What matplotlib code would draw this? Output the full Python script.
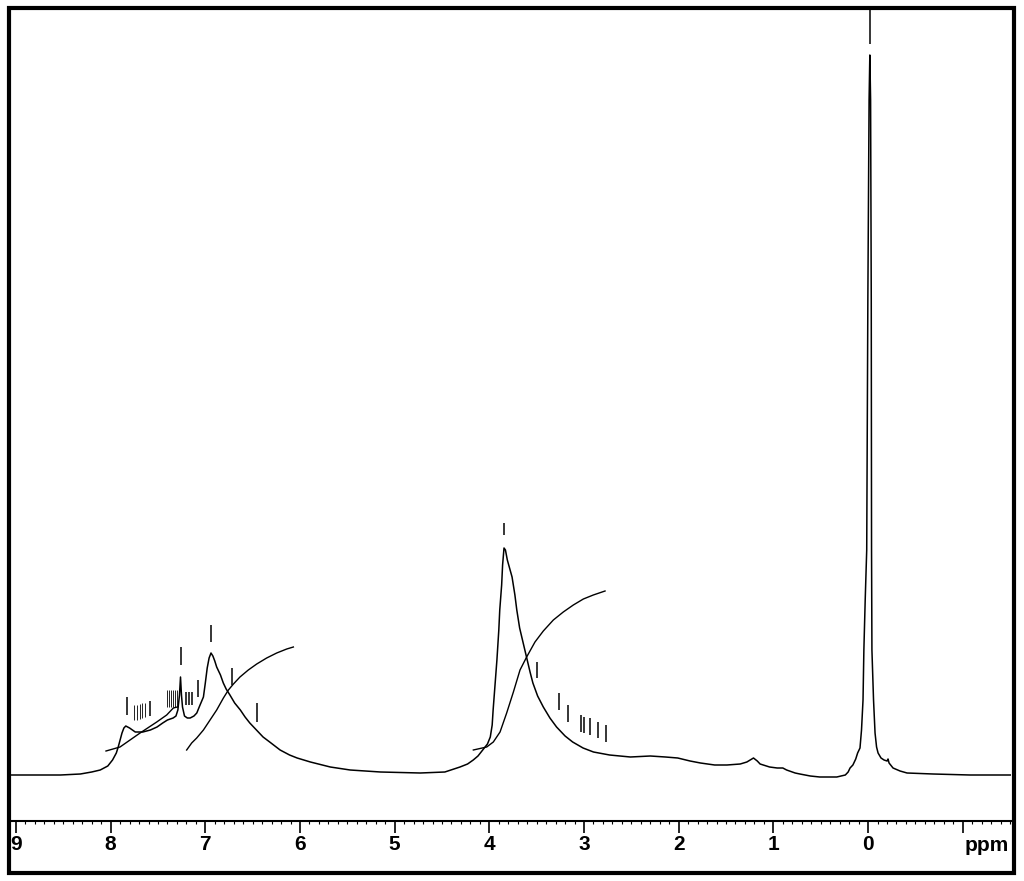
import matplotlib
matplotlib.use("Agg")
import matplotlib.pyplot as plt
from matplotlib.patches import Rectangle
from matplotlib.ticker import MultipleLocator, FixedLocator

# 1H NMR spectrum (ppm, intensity a.u.)
spectrum_pts = [
    (9.06, 0), (8.53, 0), (8.32, 1), (8.20, 3), (8.11, 5), (8.03, 9), (7.98, 15),
    (7.94, 22), (7.92, 28), (7.90, 35), (7.88, 42), (7.86, 47), (7.84, 49),
    (7.82, 48), (7.80, 47), (7.74, 43), (7.66, 43), (7.58, 45), (7.51, 48),
    (7.45, 52), (7.40, 55), (7.34, 57), (7.31, 59), (7.29, 65), (7.273, 80),
    (7.262, 98), (7.252, 80), (7.241, 68), (7.22, 59), (7.19, 57), (7.16, 57),
    (7.12, 59), (7.09, 62), (7.06, 69), (7.02, 78), (7.00, 92), (6.98, 107),
    (6.96, 117), (6.94, 122), (6.92, 119), (6.90, 114), (6.88, 108), (6.84, 100),
    (6.81, 92), (6.78, 86), (6.74, 80), (6.69, 72), (6.63, 65), (6.58, 58),
    (6.53, 52), (6.46, 45), (6.39, 38), (6.32, 33), (6.21, 25), (6.11, 20),
    (6.03, 17), (5.89, 13), (5.68, 8), (5.47, 5), (5.15, 3), (4.73, 2), (4.47, 3),
    (4.31, 8), (4.23, 11), (4.17, 15), (4.12, 19), (4.07, 25), (4.02, 31),
    (3.99, 38), (3.97, 50), (3.96, 65), (3.94, 90), (3.92, 115), (3.90, 145),
    (3.89, 165), (3.87, 190), (3.86, 210), (3.845, 227), (3.83, 225), (3.81, 215),
    (3.78, 205), (3.76, 198), (3.73, 180), (3.71, 165), (3.68, 147), (3.65, 135),
    (3.62, 123), (3.60, 115), (3.57, 103), (3.54, 92), (3.49, 79), (3.43, 68),
    (3.36, 57), (3.29, 48), (3.20, 39), (3.12, 33), (3.01, 27), (2.90, 23),
    (2.73, 20), (2.51, 18), (2.30, 19), (2.14, 18), (2.01, 17), (1.88, 14),
    (1.77, 12), (1.62, 10), (1.49, 10), (1.35, 11), (1.28, 13), (1.21, 17),
    (1.17, 14), (1.14, 11), (1.04, 8), (0.96, 7), (0.90, 7), (0.86, 5), (0.77, 2),
    (0.72, 1), (0.61, -1), (0.51, -2), (0.33, -2), (0.24, 0), (0.21, 3), (0.19, 7),
    (0.16, 10), (0.13, 16), (0.11, 22), (0.085, 27), (0.069, 45), (0.053, 75),
    (0.044, 125), (0.030, 175), (0.014, 225), (0.002, 475), (-0.011, 675),
    (-0.019, 720), (-0.027, 675), (-0.034, 475), (-0.037, 225), (-0.041, 125),
    (-0.058, 75), (-0.074, 42), (-0.090, 28), (-0.106, 22), (-0.137, 17),
    (-0.169, 15), (-0.201, 14), (-0.211, 16), (-0.222, 12), (-0.264, 7),
    (-0.338, 4), (-0.412, 2), (-0.687, 1), (-1.077, 0), (-1.51, 0),
]

# integral curves
integral_1 = [(8.049, 24), (7.901, 28), (7.795, 35), (7.689, 42), (7.513, 53),
              (7.408, 60), (7.338, 67), (7.296, 68)]
integral_2 = [(7.197, 25), (7.144, 32), (7.091, 37), (7.020, 45), (6.950, 55),
              (6.880, 65), (6.809, 77), (6.756, 85), (6.703, 91), (6.634, 98),
              (6.546, 105), (6.457, 111), (6.352, 117), (6.246, 122), (6.140, 126),
              (6.070, 128)]
integral_3 = [(4.169, 25), (4.028, 28), (3.958, 33), (3.887, 43), (3.817, 62),
              (3.746, 83), (3.676, 105), (3.606, 118), (3.518, 133), (3.430, 144),
              (3.324, 155), (3.219, 163), (3.113, 170), (3.007, 176), (2.902, 180),
              (2.778, 184)]

# peak picking marks: position, bottom, top
pick_ppm = [7.830, 7.750, 7.722, 7.693, 7.666, 7.637, 7.584,
            7.408, 7.387, 7.366, 7.344, 7.323, 7.302,
            7.260, 7.204, 7.172, 7.144, 7.074, 6.943, 6.721, 6.457,
            3.845, 3.496, 3.264, 3.169, 3.032, 3.000, 2.937, 2.852, 2.768, -0.021]
pick_lo = [60, 55, 55, 56, 57, 58, 59,
           68, 68, 68, 68, 68, 68,
           110, 70, 70, 70, 78, 133, 90, 53,
           240, 97, 65, 53, 43, 42, 40, 37, 33, 731]
pick_hi = [78, 70, 70, 71, 72, 72, 74,
           85, 85, 85, 85, 85, 85,
           128, 83, 83, 83, 95, 150, 107, 72,
           252, 113, 82, 70, 60, 58, 57, 53, 50, 767]

tick_pos = [9, 8, 7, 6, 5, 4, 3, 2, 1, 0, -1]
tick_lab = ["9", "8", "7", "6", "5", "4", "3", "2", "1", "0", ""]

plt.rcParams['font.family'] = ['Liberation Sans', 'DejaVu Sans']

W, H = 1024, 881
fig = plt.figure(figsize=(W / 100, H / 100), dpi=100)
ax = fig.add_axes([10 / W, 1 - 821 / H, (1011 - 10) / W, (821 - 8) / H])

x, y = zip(*spectrum_pts)
ax.plot(x, y, color='black', lw=1.1)
for curve in (integral_1, integral_2, integral_3):
    cx, cy = zip(*curve)
    ax.plot(cx, cy, color='black', lw=1.0)

# marks that sit close together get a thinner stroke
widths = [0.6 if 7.29 < p < 7.42 or 7.6 < p < 7.76 else 1.1 for p in pick_ppm]
ax.vlines(pick_ppm, pick_lo, pick_hi, color='black', linewidths=widths)

ax.set_xlim(9.063, -1.51)
ax.set_ylim(-46, 767)

for s in ('top', 'left', 'right'):
    ax.spines[s].set_visible(False)
ax.spines['bottom'].set_linewidth(1.5)
ax.set_yticks([])
ax.xaxis.set_major_locator(FixedLocator(tick_pos))
ax.set_xticklabels(tick_lab, fontsize=15, fontweight='bold')
ax.xaxis.set_minor_locator(MultipleLocator(0.1))
ax.tick_params(axis='x', which='major', length=8.6, width=1.2, pad=1.5)
ax.tick_params(axis='x', which='minor', length=2.5, width=0.8)

fig.text(987 / W, 1 - 851 / H, "ppm", ha='center', va='baseline',
         fontsize=15, fontweight='bold')

fig.patches.append(Rectangle((8.5 / W, 1 - 872.5 / H), (1014 - 8.5) / W,
                             (872.5 - 7.5) / H, transform=fig.transFigure,
                             fill=False, lw=3, edgecolor='black'))

fig.savefig("out.png", dpi=100)
